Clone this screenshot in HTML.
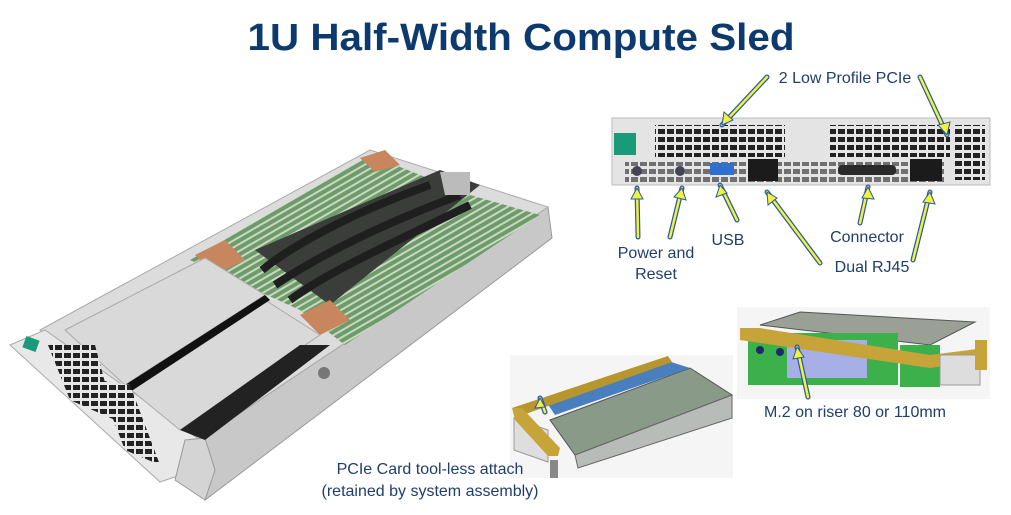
<!DOCTYPE html>
<html><head><meta charset="utf-8"><style>
html,body{margin:0;padding:0;background:#fff;width:1011px;height:515px;overflow:hidden;}
svg{display:block}
</style></head><body>
<svg width="1011" height="515" viewBox="0 0 1011 515" xmlns="http://www.w3.org/2000/svg" font-family="Liberation Sans, sans-serif">
<defs>
<pattern id="grill" width="9" height="8" patternUnits="userSpaceOnUse"><rect width="9" height="8" fill="#e6e6e6"/><rect x="1" y="1" width="7" height="5" fill="#222"/></pattern>
<pattern id="dimm" width="6" height="6" patternUnits="userSpaceOnUse" patternTransform="rotate(-30)"><rect width="6" height="6" fill="#6d9b6a"/><rect width="6" height="2" fill="#c9d8c0"/></pattern>
</defs>
<text x="521" y="50" text-anchor="middle" font-size="38" font-weight="bold" fill="#0d3a6e" textLength="547" lengthAdjust="spacingAndGlyphs">1U Half-Width Compute Sled</text>

<!-- Sled -->
<polygon points="200,440 548,207 552,238 205,500" fill="#c8c8c8" stroke="#999" stroke-width="1"/>
<polygon points="40,330 370,150 548,207 200,440" fill="#dcdcdc" stroke="#aaa"/>
<polygon points="10,345 45,330 200,440 195,470 160,482" fill="#e8e8e8" stroke="#aaa"/>
<polygon points="185,440 205,438 215,470 205,500 175,480" fill="#d4d4d4" stroke="#999"/>
<polygon points="190,260 370,155 470,195 300,310" fill="url(#dimm)"/>
<polygon points="300,310 470,195 540,215 345,345" fill="url(#dimm)"/>
<polygon points="255,250 440,170 480,185 330,305" fill="#3a3d3a"/>
<path d="M262,270 C300,240 360,210 430,185 M275,285 C320,255 380,225 460,195 M290,300 C330,270 400,240 470,205" stroke="#1f1f1f" stroke-width="8" fill="none"/>
<polygon points="195,255 225,240 245,260 215,275" fill="#c8865e"/>
<polygon points="300,315 330,300 350,320 320,335" fill="#c8865e"/>
<polygon points="360,158 385,150 400,165 375,172" fill="#c8865e"/>
<polygon points="440,172 470,172 470,195 445,195" fill="#bbb"/>
<polygon points="65,330 205,258 265,295 125,385" fill="#d9d9d9" stroke="#aaa"/>
<polygon points="125,385 265,300 320,335 180,430" fill="#d9d9d9" stroke="#aaa"/>
<polygon points="125,385 265,295 270,300 130,392" fill="#111"/>
<polygon points="180,430 300,345 330,345 205,440" fill="#222"/>
<polygon points="48,345 95,345 115,420 70,400" fill="url(#grill)"/>
<polygon points="98,380 130,385 160,465 125,450" fill="url(#grill)"/>
<rect x="24" y="338" width="14" height="12" fill="#1a9a78" transform="rotate(20 31 344)"/>
<circle cx="324" cy="373" r="6" fill="#777"/>

<!-- Rear panel -->
<rect x="612" y="118" width="378" height="67" fill="#e4e4e4" stroke="#bbb"/>
<rect x="655" y="125" width="130" height="32" fill="url(#grill)"/>
<rect x="830" y="125" width="120" height="32" fill="url(#grill)"/>
<rect x="955" y="125" width="30" height="55" fill="url(#grill)"/>
<rect x="625" y="162" width="320" height="20" fill="url(#grill)" opacity="0.6"/>
<rect x="614" y="133" width="22" height="22" fill="#1a9a78"/>
<circle cx="637" cy="171" r="5" fill="#445"/>
<circle cx="680" cy="171" r="5" fill="#445"/>
<rect x="710" y="163" width="24" height="12" fill="#2f6fcf"/>
<rect x="748" y="159" width="30" height="22" fill="#1b1b1b"/>
<rect x="910" y="159" width="32" height="22" fill="#1b1b1b"/>
<rect x="838" y="165" width="58" height="10" rx="4" fill="#2a2a2a"/>

<!-- PCIe card image -->
<rect x="510" y="355" width="223" height="123" fill="#f5f5f5"/>
<polygon points="550,420 690,368 732,395 575,455" fill="#8a9a88" stroke="#555"/>
<polygon points="575,455 732,395 732,418 578,468" fill="#b8bcb8" stroke="#666"/>
<polygon points="545,400 665,360 690,368 555,415" fill="#4a7fbf"/>
<polygon points="512,408 668,356 672,362 520,416" fill="#b8962e"/>
<polygon points="514,418 548,430 548,462 514,450" fill="#dedede" stroke="#999"/>
<polygon points="512,408 522,408 560,448 558,456 548,456 515,420" fill="#c7a43a"/>
<rect x="550" y="460" width="8" height="18" fill="#888"/>

<!-- Riser image -->
<rect x="737" y="307" width="253" height="92" fill="#f5f5f5"/>
<polygon points="760,325 800,312 975,322 930,345" fill="#9ba097" stroke="#555"/>
<rect x="748" y="333" width="150" height="52" fill="#3cb04a"/>
<rect x="787" y="340" width="80" height="38" fill="#a6b0e6"/>
<rect x="900" y="345" width="40" height="42" fill="#3cb04a"/>
<polygon points="740,328 760,328 930,355 985,348 985,360 930,368 740,340" fill="#c7a43a"/>
<rect x="940" y="355" width="40" height="30" fill="#ddd" stroke="#999"/>
<rect x="975" y="340" width="12" height="30" fill="#c7a43a"/>
<circle cx="760" cy="350" r="4" fill="#1d2a6a"/>
<circle cx="780" cy="352" r="4" fill="#1d2a6a"/>

<!-- Arrows -->
<g fill="none" stroke-linecap="round">
<g stroke="#2a5aa8" stroke-width="5">
<path d="M767,77 L722,125 M920,77 L947,135 M638,237 L637,188 M670,237 L682,188 M737,220 L720,185 M820,263 L767,192 M860,223 L868,187 M913,260 L930,192 M808,397 L797,347 M545,412 L540,398"/>
</g>
<g stroke="#f2f23a" stroke-width="2.5">
<path d="M767,77 L722,125 M920,77 L947,135 M638,237 L637,188 M670,237 L682,188 M737,220 L720,185 M820,263 L767,192 M860,223 L868,187 M913,260 L930,192 M808,397 L797,347 M545,412 L540,398"/>
</g>
</g>
<g fill="#f2f23a" stroke="#2a5aa8" stroke-width="1">
<polygon points="722,125 724,112 733,120"/>
<polygon points="947,135 938,125 950,122"/>
<polygon points="637,188 631,199 643,199"/>
<polygon points="682,188 674,197 686,200"/>
<polygon points="720,185 716,197 727,193"/>
<polygon points="767,192 768,205 777,198"/>
<polygon points="868,187 862,198 874,199"/>
<polygon points="930,192 923,202 935,204"/>
<polygon points="797,347 793,359 804,357"/>
<polygon points="540,398 535,408 545,407"/>
</g>

<g font-size="16" fill="#1f3d6e">
<text x="845" y="83" text-anchor="middle">2 Low Profile PCIe</text>
<text x="656" y="258" text-anchor="middle">Power and</text>
<text x="656" y="279" text-anchor="middle">Reset</text>
<text x="728" y="245" text-anchor="middle">USB</text>
<text x="867" y="242" text-anchor="middle">Connector</text>
<text x="872" y="272" text-anchor="middle">Dual RJ45</text>
<text x="855" y="417" text-anchor="middle">M.2 on riser 80 or 110mm</text>
<text x="430" y="474" text-anchor="middle">PCIe Card tool-less attach</text>
<text x="430" y="496" text-anchor="middle">(retained by system assembly)</text>
</g>
</svg>
</body></html>
